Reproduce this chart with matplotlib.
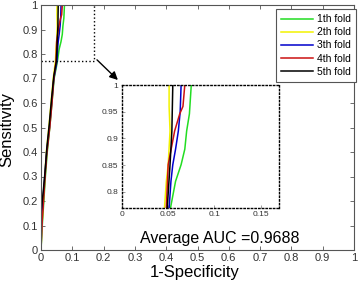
import matplotlib
matplotlib.use('Agg')
import matplotlib.pyplot as plt

plt.rcParams['font.family'] = ['Liberation Sans', 'DejaVu Sans']

# ROC points per fold (1-specificity, sensitivity)
fold1_x = [0, 0.004, 0.009, 0.014, 0.020, 0.028, 0.035, 0.042, 0.0525, 0.058, 0.064, 0.068, 0.070, 0.073, 0.075]
fold1_y = [0, 0.10, 0.20, 0.30, 0.40, 0.50, 0.60, 0.70, 0.77, 0.82, 0.851, 0.88, 0.914, 0.946, 1.0]
fold2_x = [0, 0.003, 0.007, 0.012, 0.017, 0.025, 0.032, 0.039, 0.046, 0.048, 0.050, 0.052, 0.051, 0.051]
fold2_y = [0, 0.10, 0.20, 0.30, 0.40, 0.50, 0.60, 0.70, 0.77, 0.82, 0.851, 0.914, 0.96, 1.0]
fold3_x = [0, 0.002, 0.006, 0.012, 0.018, 0.027, 0.034, 0.041, 0.051, 0.053, 0.055, 0.058, 0.061, 0.063, 0.064]
fold3_y = [0, 0.10, 0.20, 0.30, 0.40, 0.50, 0.60, 0.70, 0.77, 0.82, 0.851, 0.88, 0.914, 0.95, 1.0]
fold4_x = [0, 0.003, 0.008, 0.013, 0.019, 0.028, 0.035, 0.041, 0.048, 0.050, 0.057, 0.0625, 0.066, 0.068]
fold4_y = [0, 0.10, 0.20, 0.30, 0.40, 0.50, 0.60, 0.70, 0.77, 0.851, 0.914, 0.946, 0.96, 1.0]
fold5_x = [0, 0, 0.008, 0.013, 0.019, 0.027, 0.034, 0.041, 0.049, 0.052, 0.054, 0.055]
fold5_y = [0, 0.15, 0.25, 0.32, 0.42, 0.52, 0.62, 0.71, 0.77, 0.851, 0.914, 1.0]

labels = ['1th fold', '2th fold', '3th fold', '4th fold', '5th fold']
colors = ['#22dd22', '#f2f200', '#0000cc', '#cc1111', '#000000']
folds = [(fold1_x, fold1_y), (fold2_x, fold2_y), (fold3_x, fold3_y),
         (fold4_x, fold4_y), (fold5_x, fold5_y)]
avg_auc = 0.9688

fig = plt.figure(figsize=(3.58, 2.85), dpi=100)
ax = fig.add_axes([41 / 358, 35 / 285, 313 / 358, 245 / 285])

for (x, y), c, lab in zip(folds, colors, labels):
    ax.plot(x, y, color=c, lw=1.1, label=lab)

ax.set_xlim(0, 1)
ax.set_ylim(0, 1)
ax.set_xticks([i / 10 for i in range(11)])
ax.set_yticks([i / 10 for i in range(11)])
ax.set_xticklabels(['0'] + [f'{i / 10:g}' for i in range(1, 10)] + ['1'])
ax.set_yticklabels(['0'] + [f'{i / 10:g}' for i in range(1, 10)] + ['1'])
ax.tick_params(direction='in', top=True, right=True, length=3, width=0.6,
               labelsize=8, labelcolor='#333333', color='#555555', pad=2.5)
for s in ax.spines.values():
    s.set_color('#555555')
    s.set_linewidth(0.8)

ax.set_xlabel('1-Specificity', fontsize=12)
ax.set_ylabel('Sensitivity', fontsize=12)
ax.xaxis.set_label_coords(0.49, -0.063)
ax.yaxis.set_label_coords(-0.086, 0.49)

# zoom region box
ax.plot([0, 0.17, 0.17], [0.77, 0.77, 1], color='k', ls=':', lw=1)
ax.annotate('', xy=(0.252, 0.686), xytext=(0.1725, 0.784),
            arrowprops=dict(arrowstyle='-|>', color='k', lw=1, mutation_scale=12))

ax.text(0.315, 0.029, f'Average AUC ={avg_auc}', fontsize=11.5, va='baseline', ha='left')

leg = fig.legend(loc='upper right', bbox_to_anchor=(356 / 358, 276 / 285), fontsize=7.5,
                 fancybox=False, edgecolor='#555555', framealpha=1, borderpad=0.5,
                 handlelength=3.0, labelspacing=0.3, handletextpad=0.4, borderaxespad=0)
leg.get_frame().set_linewidth(0.8)

# inset
ins = fig.add_axes([122 / 358, 77 / 285, 157 / 358, 123 / 285])
for (x, y), c in zip(folds, colors):
    ins.plot(x, y, color=c, lw=1.1)
ins.set_xlim(0, 0.17)
ins.set_ylim(0.77, 1)
ins.set_xticks([0, 0.05, 0.1, 0.15])
ins.set_xticklabels(['0', '0.05', '0.1', '0.15'])
ins.set_yticks([0.8, 0.85, 0.9, 0.95, 1])
ins.set_yticklabels(['0.8', '0.85', '0.9', '0.95', '1'])
ins.tick_params(direction='in', length=2, width=0.5, labelsize=6, pad=2.5,
                labelcolor='#333333', color='#777777')
for s in ins.spines.values():
    s.set_linestyle(':')
    s.set_color('k')
    s.set_linewidth(1)

fig.savefig('out.png', dpi=100)
